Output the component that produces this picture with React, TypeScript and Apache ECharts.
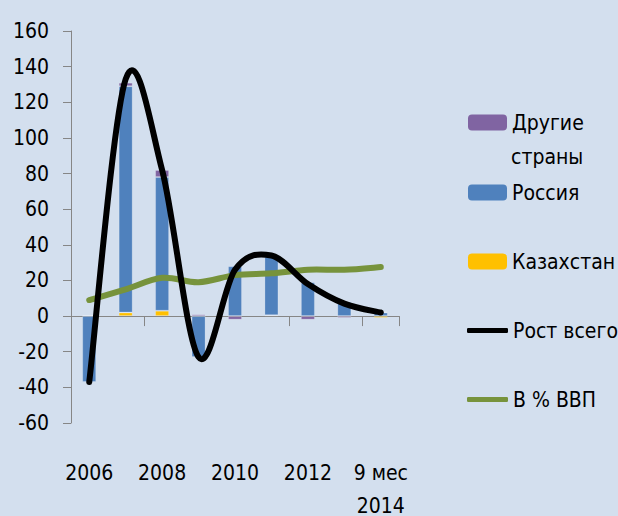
import React, { useEffect, useRef } from "react";
import * as echarts from "echarts";

const categories = ["2006", "2007", "2008", "2009", "2010", "2011", "2012", "2013", "9 мес\n2014"];
const kazakhstan = [0, 2, 3, 0, 0, 0.5, 0, 0, -1];
const russia = [-37, 127, 75, -23, 28, 33, 19, 8, 2];
const others = [0.5, 2, 4, 1, -2, 0, -2, -1, 0.5];
const totalGrowth = [-37, 133, 82, -23, 26, 34, 18, 7, 2];
const gdpShare = [9, 15, 21.5, 19, 23, 24, 26, 26, 27.5];

const FONT = "'DejaVu Sans Condensed', 'Liberation Sans Narrow', sans-serif";
const BG = "#d3dfee";

// Excel-like smoothed line (Catmull-Rom through the points, as Bezier segments)
function smoothPath(pts: number[][]): string {
  let d = `M${pts[0][0]},${pts[0][1]}`;
  for (let i = 0; i < pts.length - 1; i++) {
    const p0 = pts[i - 1] || pts[i];
    const p1 = pts[i];
    const p2 = pts[i + 1];
    const p3 = pts[i + 2] || pts[i + 1];
    const c1x = p1[0] + (p2[0] - p0[0]) / 6;
    const c1y = p1[1] + (p2[1] - p0[1]) / 6;
    const c2x = p2[0] - (p3[0] - p1[0]) / 6;
    const c2y = p2[1] - (p3[1] - p1[1]) / 6;
    d += ` C${c1x},${c1y} ${c2x},${c2y} ${p2[0]},${p2[1]}`;
  }
  return d;
}

function smoothSeries(name: string, values: number[], color: string, width: number, z: number) {
  return {
    name,
    type: "custom",
    z,
    data: values.map((v, i) => [i, v]),
    encode: { x: 0, y: 1 },
    itemStyle: { color },
    renderItem: (params: any, api: any) => {
      if (params.dataIndex !== 0) return null;
      const pts = values.map((v, i) => api.coord([i, v]));
      return {
        type: "path",
        shape: { pathData: smoothPath(pts) },
        style: { fill: "none", stroke: color, lineWidth: width, lineCap: "round", lineJoin: "round" },
      };
    },
  };
}

export default function App() {
  const ref = useRef<HTMLDivElement>(null);
  useEffect(() => {
    if (!ref.current) return;
    const chart = echarts.init(ref.current, undefined, { renderer: "svg" });
    const legendBase = {
      orient: "vertical",
      left: 468,
      padding: 0,
      itemWidth: 39,
      itemHeight: 16,
      itemGap: 5,
      selectedMode: false,
      itemStyle: { borderWidth: 0 },
      textStyle: { fontFamily: FONT, fontSize: 21, color: "#000", lineHeight: 16 },
    };
    const lineLegend = { ...legendBase, left: 467, itemWidth: 41, itemHeight: 5, icon: "roundRect" };
    const barEdge = { borderColor: "rgba(255,255,255,0.2)", borderWidth: 1 };
    chart.setOption({
      animation: false,
      backgroundColor: BG,
      textStyle: { fontFamily: FONT },
      grid: { left: 71, top: 31, width: 328, height: 392, containLabel: false, outerBoundsMode: "none" },
      legend: [
        { ...legendBase, top: 112, data: ["Другие страны"], formatter: () => "Другие" },
        { ...legendBase, top: 182, data: ["Россия"] },
        { ...legendBase, top: 251, data: ["Казахстан"] },
        { ...lineLegend, top: 320, data: ["Рост всего"] },
        { ...lineLegend, top: 389, data: ["В % ВВП"] },
      ],
      graphic: [
        {
          type: "text",
          left: 511,
          top: 146,
          style: { text: "страны", fontFamily: FONT, fontSize: 21, fill: "#000" },
        },
      ],
      xAxis: [
        {
          type: "category",
          data: categories,
          axisLine: { onZero: true, lineStyle: { color: "#868686", width: 1 } },
          axisTick: { show: true, length: 10, lineStyle: { color: "#868686" } },
          axisLabel: { show: false },
          splitLine: { show: false },
        },
        {
          type: "category",
          data: categories,
          position: "bottom",
          axisLine: { show: false, onZero: false },
          axisTick: { show: false },
          axisLabel: {
            interval: 1,
            margin: 33,
            fontFamily: FONT,
            fontSize: 21,
            color: "#000",
            lineHeight: 33,
          },
          splitLine: { show: false },
        },
      ],
      yAxis: {
        type: "value",
        min: -60,
        max: 160,
        interval: 20,
        axisLine: { show: true, lineStyle: { color: "#868686" } },
        axisTick: { show: true, length: 8, lineStyle: { color: "#868686" } },
        axisLabel: { margin: 22, fontFamily: FONT, fontSize: 21, color: "#000" },
        splitLine: { show: false },
      },
      series: [
        {
          name: "Казахстан",
          type: "bar",
          stack: "total",
          barWidth: 14,
          data: kazakhstan,
          itemStyle: { color: "#ffc000", ...barEdge },
        },
        {
          name: "Россия",
          type: "bar",
          stack: "total",
          barWidth: 14,
          data: russia,
          itemStyle: { color: "#4f81bd", ...barEdge },
        },
        {
          name: "Другие страны",
          type: "bar",
          stack: "total",
          barWidth: 14,
          data: others,
          itemStyle: { color: "#8064a2", ...barEdge },
        },
        smoothSeries("В % ВВП", gdpShare, "#77933c", 6, 5),
        smoothSeries("Рост всего", totalGrowth, "#000000", 6, 6),
      ],
    });
    return () => chart.dispose();
  }, []);
  return (
    <div
      ref={ref}
      style={{ position: "fixed", left: 0, top: 0, width: 618, height: 516, background: BG }}
    />
  );
}
